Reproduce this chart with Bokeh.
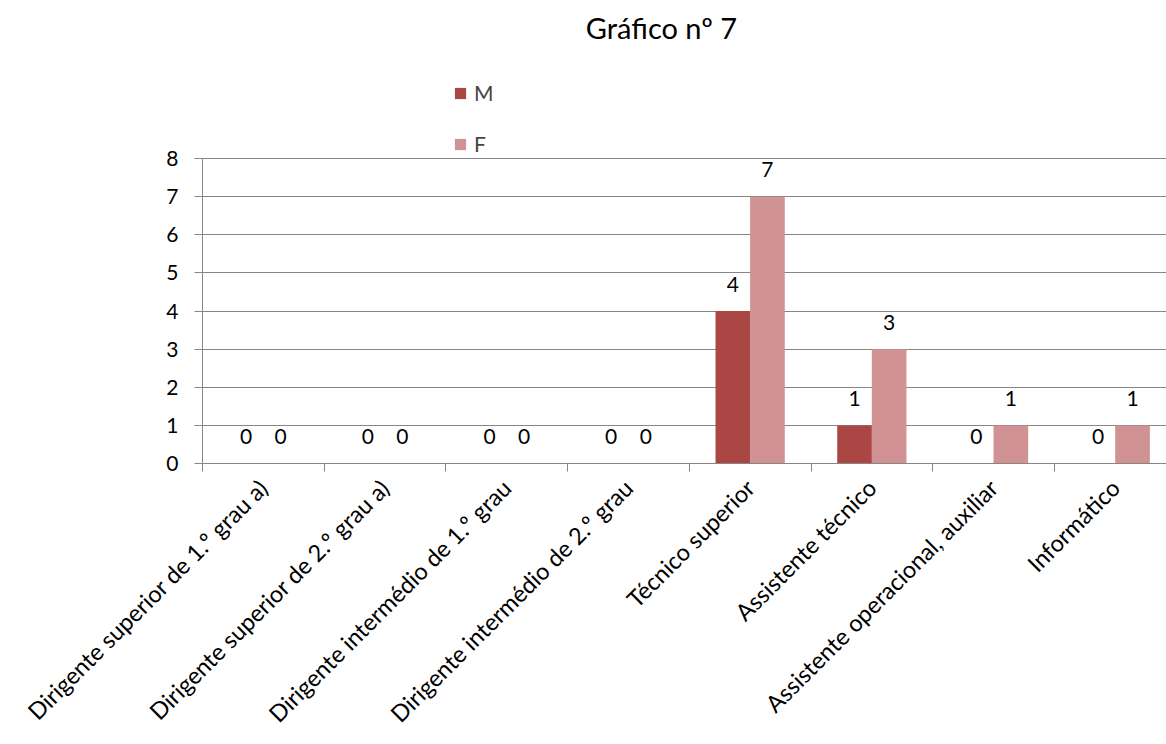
import numpy as np
from bokeh.plotting import figure
from bokeh.models import (Range1d, FixedTicker, Legend, LegendItem, ColumnDataSource, Label)
from bokeh.embed import file_html
from bokeh.resources import INLINE
from bokeh.core.properties import value

title_text = "Gráfico nº 7"
categories = [
    "Dirigente superior de 1.º grau a)",
    "Dirigente superior de 2.º grau a)",
    "Dirigente intermédio de 1.º grau",
    "Dirigente intermédio de 2.º grau",
    "Técnico superior",
    "Assistente técnico",
    "Assistente operacional, auxiliar",
    "Informático",
]
series_names = ["M", "F"]
m_values = [0, 0, 0, 0, 4, 1, 0, 0]
f_values = [0, 0, 0, 0, 7, 3, 1, 1]
y_ticks = [0, 1, 2, 3, 4, 5, 6, 7, 8]

FONT = "Lato"
M_COLOR = "#AA4643"
F_COLOR = "#D09292"
GRID = "#868686"

n = len(categories)
centers = np.arange(n) + 0.5
bounds = list(range(0, n + 1))
bar_w = 0.285
off = 0.142

PX_PER_UNIT = 305 / 8.0
FRAME_H = 463

p = figure(width=1166, height=744, output_backend="svg", toolbar_location=None,
           x_range=Range1d(0, 964 / 121.7), y_range=Range1d(0, FRAME_H / PX_PER_UNIT),
           min_border_left=202, min_border_right=0, min_border_top=0, min_border_bottom=281,
           tools="")
p.outline_line_color = None
p.background_fill_color = "white"
p.border_fill_color = "white"

src_m = ColumnDataSource(dict(x=centers - off, top=m_values, lab=[str(v) for v in m_values]))
src_f = ColumnDataSource(dict(x=centers + off, top=f_values, lab=[str(v) for v in f_values]))

r_m = p.vbar(x="x", top="top", width=bar_w, source=src_m, fill_color=M_COLOR, line_color=None)
r_f = p.vbar(x="x", top="top", width=bar_w, source=src_f, fill_color=F_COLOR, line_color=None)

for src in (src_m, src_f):
    p.text(x="x", y="top", text="lab", source=src, text_font=value(FONT),
           text_font_size="21px", text_color="black", text_align="center",
           text_baseline="middle", y_offset=-27)

# axes
xa = p.xaxis[0]
xa.ticker = FixedTicker(ticks=list(centers), minor_ticks=bounds)
xa.major_label_overrides = {float(c): lab for c, lab in zip(centers, categories)}
xa.major_label_orientation = np.pi / 4
xa.major_tick_out = 0
xa.major_tick_in = 0
xa.minor_tick_out = 8
xa.minor_tick_in = 0
xa.minor_tick_line_color = GRID
xa.axis_line_color = GRID
xa.major_label_text_font = FONT
xa.major_label_text_font_size = "23.5px"
xa.major_label_text_color = "black"
xa.major_label_standoff = 12

ya = p.yaxis[0]
ya.ticker = FixedTicker(ticks=y_ticks)
ya.bounds = (0, 8)
ya.major_tick_out = 8
ya.major_tick_in = 0
ya.minor_tick_line_color = None
ya.major_tick_line_color = GRID
ya.axis_line_color = GRID
ya.major_label_text_font = FONT
ya.major_label_text_font_size = "21px"
ya.major_label_text_color = "black"
ya.major_label_standoff = 16

p.xgrid.grid_line_color = None
p.ygrid.ticker = FixedTicker(ticks=y_ticks)
p.ygrid.grid_line_color = GRID

legend = Legend(items=[LegendItem(label=series_names[0], renderers=[r_m]),
                       LegendItem(label=series_names[1], renderers=[r_f])],
                location=(251, 307), orientation="vertical",
                glyph_width=14, glyph_height=14, label_standoff=7,
                label_text_font=FONT, label_text_font_size="21px",
                label_height=20, spacing=26, padding=0, margin=0,
                border_line_color=None, background_fill_alpha=0)
p.add_layout(legend, "center")

title = Label(x=459, y=FRAME_H - 27, x_units="screen", y_units="screen", text=title_text,
              text_font=FONT, text_font_size="29px", text_align="center",
              text_baseline="middle", text_color="black")
p.add_layout(title)

open("out.html", "w").write(file_html(p, INLINE))
